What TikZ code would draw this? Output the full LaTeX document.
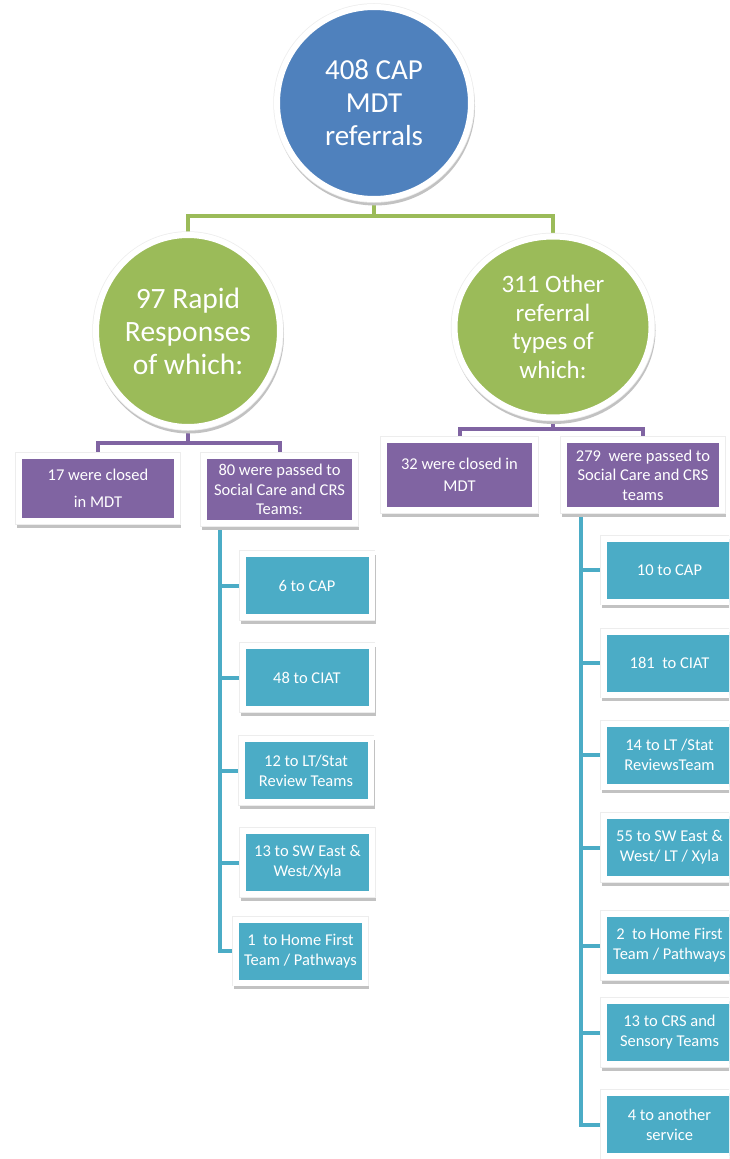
\documentclass[tikz,border=0pt]{standalone}
\usepackage{fontspec}
\setmainfont{Carlito}
\usetikzlibrary{shapes.geometric,backgrounds}
\definecolor{cblue}{HTML}{4F81BD}
\definecolor{cgreen}{HTML}{9BBB59}
\definecolor{cpurple}{HTML}{8064A2}
\definecolor{cteal}{HTML}{4BACC6}
\tikzset{
  shadowed/.style={preaction={draw=black!24, fill=black!24, line width=6pt, transform canvas={xshift=1pt,yshift=-3.5pt}},
                   preaction={draw=black!7, line width=7.5pt}},
  bubble/.style={ellipse, draw=white, line width=6pt, inner sep=0pt, text=white, align=center, shadowed},
  pbox/.style={rectangle, fill=cpurple, draw=white, line width=6pt, text=white, align=center, inner sep=0pt,
               font=\fontsize{16.5}{19.5}\selectfont, shadowed},
  tbox/.style={rectangle, fill=cteal, draw=white, line width=6pt, text=white, align=center, inner sep=0pt,
               minimum width=129pt, minimum height=63pt, font=\fontsize{16.5}{20}\selectfont, shadowed},
  gline/.style={draw=cgreen, line width=4pt},
  pline/.style={draw=cpurple, line width=4pt},
  tline/.style={draw=cteal, line width=4pt},
}
\begin{document}
\begin{tikzpicture}[x=1pt,y=-1pt]
\useasboundingbox (0,0) rectangle (729,1159);
\clip (0,0) rectangle (729,1159);
% circles
\node[bubble, fill=cblue, minimum width=194pt, minimum height=192pt, font=\fontsize{29}{33}\selectfont] (c0) at (374,103) {408 CAP\\MDT\\referrals};
\node[bubble, fill=cgreen, minimum width=184pt, minimum height=192pt, font=\fontsize{29.5}{33}\selectfont] (c1) at (188,331) {97 Rapid\\Responses\\of which:};
\node[bubble, fill=cgreen, minimum width=197pt, minimum height=181pt, font=\fontsize{25}{28.5}\selectfont] (c2) at (553,327) {311 Other\\referral\\types of\\which:};
% purple boxes
\node[pbox, minimum width=158pt, minimum height=65pt] (b1) at (98,488.5) {17 were closed\\[7.5pt]in MDT};
\node[pbox, minimum width=151pt, minimum height=67pt] (b2) at (279.5,489.5) {80 were passed to\\Social Care and CRS\\Teams:};
\node[pbox, minimum width=151pt, minimum height=70pt] (b3) at (459.5,475) {32 were closed in\\[2.5pt]MDT};
\node[pbox, minimum width=158pt, minimum height=70pt] (b4) at (643,475) {279\ \ were passed to\\Social Care and CRS\\teams};
% teal boxes left
\node[tbox] (t1) at (307,585.5) {6 to CAP};
\node[tbox] (t2) at (307,677.5) {48 to CIAT};
\node[tbox] (t3) at (306,770.5) {12 to LT/Stat\\Review Teams};
\node[tbox] (t4) at (307.5,862.5) {13 to SW East \&\\West/Xyla};
\node[tbox] (t5) at (300.5,951) {1\ \ to Home First\\Team / Pathways};
% teal boxes right
\node[tbox, minimum width=131pt] (r1) at (669.5,570) {10 to CAP};
\node[tbox, minimum width=131pt] (r2) at (669.5,663) {181\ \ to CIAT};
\node[tbox, minimum width=131pt] (r3) at (669.5,755) {14 to LT /Stat\\ReviewsTeam};
\node[tbox, minimum width=131pt] (r4) at (669.5,847.5) {55 to SW East \&\\West/ LT / Xyla};
\node[tbox, minimum width=131pt] (r5) at (669.5,945.5) {2\ \ to Home First\\Team / Pathways};
\node[tbox, minimum width=131pt] (r6) at (669.5,1032.5) {13 to CRS and\\Sensory Teams};
\node[tbox, minimum width=131pt] (r7) at (669.5,1124.5) {4 to another\\service};
% helper coordinates
\coordinate (gy) at (0,216);
\coordinate (p1y) at (0,443);
\coordinate (p2y) at (0,429);
\coordinate (tl) at (220,0);
\coordinate (tr) at (581,0);
\begin{scope}[on background layer]
\fill[white] (0,0) rectangle (729,1159);
\draw[gline] (c0.south) -- (c0.south |- gy) -| (c1.north);
\draw[gline] (c0.south |- gy) -| (c2.north);
\draw[pline] (c1.south) -- (c1.south |- p1y) -| (b1.north);
\draw[pline] (c1.south |- p1y) -| (b2.north);
\draw[pline] (c2.south) -- (c2.south |- p2y) -| (b3.north);
\draw[pline] (c2.south |- p2y) -| (b4.north);
\foreach \t in {t1,t2,t3,t4,t5} \draw[tline] (b2.south -| tl) |- (\t.west);
\foreach \t in {r1,r2,r3,r4,r5,r6,r7} \draw[tline] (b4.south -| tr) |- (\t.west);
\end{scope}
\end{tikzpicture}
\end{document}
